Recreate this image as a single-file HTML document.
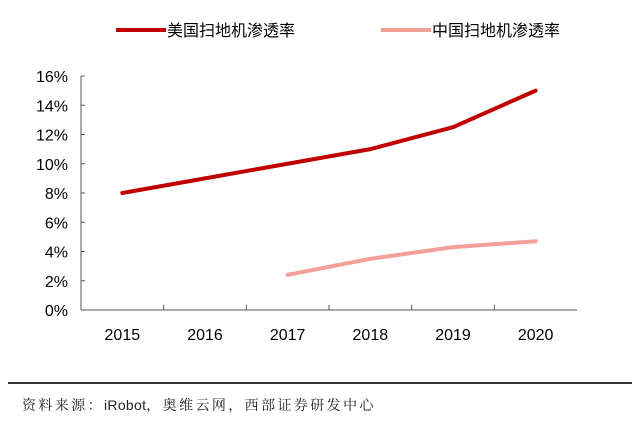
<!DOCTYPE html>
<html><head><meta charset="utf-8"><style>
body{margin:0;width:640px;height:427px;background:#fff;overflow:hidden}
svg{display:block}
text{font-family:"Liberation Sans","Noto Sans CJK SC",sans-serif}
</style></head><body>
<svg id="chart" width="640" height="427">
<g id="legend">
<g>
<line x1="116" y1="30" x2="166" y2="30" stroke="#c00000" stroke-width="4"/>
<text x="167" y="36" font-size="16" fill="#000">美国扫地机渗透率</text>
</g>
<g>
<line x1="381" y1="30" x2="431" y2="30" stroke="#f4a09a" stroke-width="4"/>
<text x="432" y="36" font-size="16" fill="#000">中国扫地机渗透率</text>
</g>
</g>
<g id="axes"></g>
<g id="series"></g>
<line x1="8" y1="383" x2="632" y2="383" stroke="#333" stroke-width="2"/>
<text x="22" y="410" font-size="14" letter-spacing="2.4" fill="#222" style="font-family:'Noto Serif CJK SC','Liberation Serif',serif">资料来源：<tspan style="font-family:'Liberation Sans',sans-serif" letter-spacing="0.3">iRobot</tspan>，奥维云网，西部证券研发中心</text>
</svg>
<script>
const categories=["2015","2016","2017","2018","2019","2020"];
const usValues=[8,9,10,11,12.5,15];
const chinaValues=[null,null,2.4,3.5,4.3,4.7];
const yTicks=[0,2,4,6,8,10,12,14,16];
const NS="http://www.w3.org/2000/svg";
const X0=81,X1=577,Y0=310,Y1=76,YMAX=16;
const band=(X1-X0)/categories.length;
const xs=i=>X0+band*(i+0.5);
const ys=v=>Y0-(v/YMAX)*(Y0-Y1);
function mk(tag,attrs,parent){const e=document.createElementNS(NS,tag);for(const k in attrs)e.setAttribute(k,attrs[k]);parent.appendChild(e);return e;}
const axes=document.getElementById('axes'),series=document.getElementById('series');
let a=mk('line',{x1:X0,y1:Y1,x2:X0,y2:Y0,stroke:'#555','stroke-width':1},axes);


a=mk('line',{x1:X0,y1:Y0,x2:X1,y2:Y0,stroke:'#555','stroke-width':1},axes);


yTicks.forEach(t=>{const y=ys(t);
 const l=mk('line',{x1:X0,y1:y,x2:X0+4,y2:y,stroke:'#555'},axes);
 
 
 const tx=mk('text',{x:X0-13,y:y+6,'font-size':16,'text-anchor':'end',fill:'#000'},axes);tx.textContent=t+'%';
 
 
});
categories.forEach((c,i)=>{
 if(i>0){const l=mk('line',{x1:X0+band*i,y1:Y0,x2:X0+band*i,y2:Y0-5,stroke:'#555'},axes);
 
 }
 const tx=mk('text',{x:xs(i),y:Y0+30,'font-size':16,'text-anchor':'middle',fill:'#000'},axes);tx.textContent=c;
 
 
});
function pts(vals){return vals.map((v,i)=>v==null?null:xs(i)+','+ys(v)).filter(p=>p).join(' ');}
let p=mk('polyline',{points:pts(usValues),fill:'none',stroke:'#c00000','stroke-width':4,'stroke-linecap':'round','stroke-linejoin':'round'},series);


p=mk('polyline',{points:pts(chinaValues),fill:'none',stroke:'#f4a09a','stroke-width':4,'stroke-linecap':'round','stroke-linejoin':'round'},series);


</script>
</body></html>
